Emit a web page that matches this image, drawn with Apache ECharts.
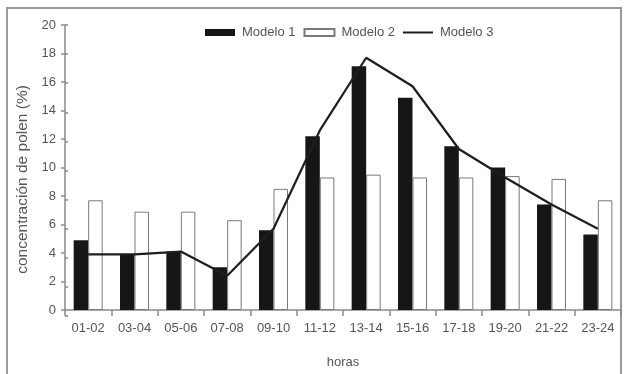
<!DOCTYPE html>
<html>
<head>
<meta charset="utf-8">
<script src="https://cdn.jsdelivr.net/npm/echarts@6/dist/echarts.min.js"></script>
<style>
html,body{margin:0;padding:0;background:#fff;}
#chart{width:624px;height:374px;}
</style>
</head>
<body>
<div id="chart"></div>
<script>
const categories = ['01-02','03-04','05-06','07-08','09-10','11-12','13-14','15-16','17-18','19-20','21-22','23-24'];
const modelo1 = [4.9, 3.9, 4.1, 3.0, 5.6, 12.2, 17.1, 14.9, 11.5, 10.0, 7.4, 5.3];
const modelo2 = [7.7, 6.9, 6.9, 6.3, 8.5, 9.3, 9.5, 9.3, 9.3, 9.4, 9.2, 7.7];
const modelo3 = [3.9, 3.9, 4.1, 2.4, 5.7, 12.6, 17.7, 15.7, 11.3, 9.3, 7.4, 5.7];
const seriesNames = ['Modelo 1', 'Modelo 2', 'Modelo 3'];
const yTicks = {min: 0, max: 20, interval: 2};
const xName = 'horas';
const yName = 'concentración de polen (%)';

const txt = '#555';
const axisCol = '#8a8a8a';
const font = 'Liberation Sans, Arial, sans-serif';

const chart = echarts.init(document.getElementById('chart'), null, {renderer: 'canvas'});
const grid = {left: 65, right: 3, top: 25, bottom: 58};
chart.setOption({
  animation: false,
  backgroundColor: '#fff',
  textStyle: {fontFamily: font},
  graphic: [{
    type: 'rect',
    shape: {x: 7, y: 8, width: 614, height: 380},
    style: {fill: 'none', stroke: '#999', lineWidth: 2},
    silent: true
  }],
  legend: {
    left: 200, top: 21,
    itemWidth: 30, itemHeight: 7, itemGap: 8,
    textStyle: {color: txt, fontSize: 13, fontFamily: font, padding: [0, 0, 0, 2]},
    data: [
      {name: seriesNames[0], icon: 'rect'},
      {name: seriesNames[1], icon: 'rect'},
      {name: seriesNames[2], icon: 'path://M0,0L60,0L60,4L0,4Z', itemStyle: {color: '#1e1e1e'}}
    ]
  },
  grid: [grid, grid],
  xAxis: [{
    type: 'category', data: categories, gridIndex: 0,
    name: xName, nameLocation: 'middle', nameGap: 46,
    nameTextStyle: {color: txt, fontSize: 13, fontFamily: font},
    axisLine: {lineStyle: {color: axisCol, width: 1.5}},
    axisTick: {show: true, length: 4, lineStyle: {color: axisCol, width: 1.5}},
    axisLabel: {color: txt, fontSize: 13, fontFamily: font, margin: 12, interval: 0},
    splitLine: {show: false}
  }, {
    type: 'category', data: categories, gridIndex: 1, position: 'bottom',
    axisLine: {show: false},
    axisTick: {show: true, inside: true, length: 3, lineStyle: {color: axisCol, width: 1.5}},
    axisLabel: {show: false}, splitLine: {show: false}
  }],
  yAxis: [{
    type: 'value', gridIndex: 0, min: yTicks.min, max: yTicks.max, interval: yTicks.interval,
    name: yName, nameLocation: 'middle', nameGap: 29,
    nameTextStyle: {color: txt, fontSize: 15.5, fontFamily: font, padding: [0, 24, 0, 0]},
    axisLine: {show: true, lineStyle: {color: axisCol, width: 1.5}},
    axisTick: {show: true, length: 4, lineStyle: {color: axisCol, width: 1.5}},
    axisLabel: {color: txt, fontSize: 13, fontFamily: font, margin: 9},
    splitLine: {show: false}
  }, {
    type: 'value', gridIndex: 1, min: yTicks.min, max: yTicks.max, interval: yTicks.interval,
    position: 'left',
    axisLine: {show: false},
    axisTick: {show: true, inside: true, length: 3, lineStyle: {color: axisCol, width: 1.5}},
    axisLabel: {show: false}, splitLine: {show: false}
  }],
  series: [{
    name: seriesNames[0], type: 'bar', data: modelo1,
    barWidth: 14.5, barGap: '0%',
    itemStyle: {color: '#161616', borderColor: '#161616', borderWidth: 0}
  }, {
    name: seriesNames[1], type: 'bar', data: modelo2,
    barWidth: 14.5, barGap: '0%',
    itemStyle: {color: '#ffffff', borderColor: '#7a7a7a', borderWidth: 1}
  }, {
    name: seriesNames[2], type: 'line', data: modelo3,
    symbol: 'none', z: 5,
    lineStyle: {color: '#1e1e1e', width: 2.2},
    itemStyle: {color: '#1e1e1e'}
  }]
});
</script>
</body>
</html>
